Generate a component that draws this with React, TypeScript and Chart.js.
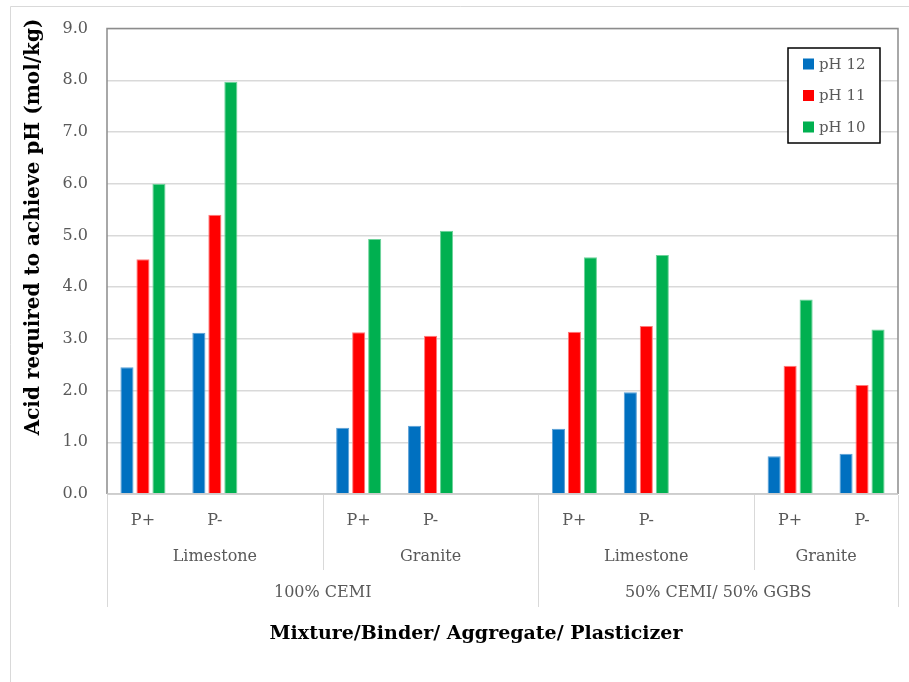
import React, { useEffect, useRef } from "react";
import { Chart, registerables } from "chart.js";

Chart.register(...registerables);

// Plasticizer level for each category slot ('' = spacer slot between groups)
const categories = ["P+", "P-", "", "P+", "P-", "", "P+", "P-", "", "P+", "P-"];

// Aggregate groups (second row) and binder groups (third row), with slot spans
const aggregateLabels = ["Limestone", "Granite", "Limestone", "Granite"];
const aggregateSpans = [3, 3, 3, 2];
const binderLabels = ["100% CEMI", "50% CEMI/ 50% GGBS"];
const binderSpans = [6, 5];

// Acid required (mol/kg) to reach each pH
const ph12 = [2.45, 3.12, null, 1.28, 1.32, null, 1.26, 1.97, null, 0.73, 0.78];
const ph11 = [4.54, 5.4, null, 3.13, 3.06, null, 3.14, 3.25, null, 2.48, 2.11];
const ph10 = [6.0, 7.97, null, 4.93, 5.09, null, 4.58, 4.62, null, 3.76, 3.18];

const seriesLabels = ["pH 12", "pH 11", "pH 10"];
const yTicks = [0, 1, 2, 3, 4, 5, 6, 7, 8, 9];

const FONT = "'DejaVu Serif', serif";
const TEXT_GREY = "#595959";

const decorations = {
  id: "decorations",
  beforeDraw(chart: any) {
    const ctx = chart.ctx;
    ctx.save();
    // outer frame (top and left edges)
    ctx.strokeStyle = "#d9d9d9";
    ctx.lineWidth = 1;
    ctx.beginPath();
    ctx.moveTo(10.5, 700);
    ctx.lineTo(10.5, 6.5);
    ctx.lineTo(920, 6.5);
    ctx.stroke();
    ctx.restore();
  },
  afterDraw(chart: any) {
    const ctx = chart.ctx;
    const area = chart.chartArea;
    const x = chart.scales.x;
    const slot = x.getPixelForValue(1) - x.getPixelForValue(0);
    const edge = (i: number) => x.getPixelForValue(i) - slot / 2;
    ctx.save();

    // plot frame
    ctx.lineWidth = 1.5;
    ctx.strokeStyle = "#8c8c8c";
    ctx.beginPath();
    ctx.moveTo(area.left, area.bottom);
    ctx.lineTo(area.left, area.top);
    ctx.lineTo(area.right, area.top);
    ctx.lineTo(area.right, area.bottom);
    ctx.stroke();
    ctx.strokeStyle = "#c8c8c8";
    ctx.beginPath();
    ctx.moveTo(area.left, area.bottom);
    ctx.lineTo(area.right, area.bottom);
    ctx.stroke();

    // multi-level category separators
    ctx.lineWidth = 1;
    ctx.strokeStyle = "#d9d9d9";
    let pos = 0;
    aggregateSpans.forEach((span) => {
      pos += span;
      const px = Math.round(edge(pos)) + 0.5;
      ctx.beginPath();
      ctx.moveTo(px, area.bottom + 1);
      ctx.lineTo(px, area.bottom + 76);
      ctx.stroke();
    });
    pos = 0;
    const binderEdges = [0];
    binderSpans.forEach((span) => {
      pos += span;
      binderEdges.push(pos);
    });
    binderEdges.forEach((b) => {
      const px = Math.round(edge(b)) + 0.5;
      ctx.beginPath();
      ctx.moveTo(px, area.bottom + 1);
      ctx.lineTo(px, area.bottom + 113);
      ctx.stroke();
    });

    // group labels
    ctx.fillStyle = TEXT_GREY;
    ctx.font = `16px ${FONT}`;
    ctx.textAlign = "center";
    ctx.textBaseline = "middle";
    pos = 0;
    aggregateSpans.forEach((span, i) => {
      const cx = (edge(pos) + edge(pos + span)) / 2;
      ctx.fillText(aggregateLabels[i], cx, area.bottom + 63);
      pos += span;
    });
    pos = 0;
    binderSpans.forEach((span, i) => {
      const cx = (edge(pos) + edge(pos + span)) / 2;
      ctx.fillText(binderLabels[i], cx, area.bottom + 99);
      pos += span;
    });

    // axis titles
    ctx.fillStyle = "#000000";
    ctx.font = `bold 19px ${FONT}`;
    ctx.fillText("Mixture/Binder/ Aggregate/ Plasticizer", 476, 634);
    ctx.font = `bold 20px ${FONT}`;
    ctx.save();
    ctx.translate(34, 227);
    ctx.rotate(-Math.PI / 2);
    ctx.fillText("Acid required to achieve pH (mol/kg)", 0, 0);
    ctx.restore();

    // legend
    const lx = 788, ly = 48, lw = 92, lh = 95;
    ctx.fillStyle = "#ffffff";
    ctx.fillRect(lx, ly, lw, lh);
    ctx.strokeStyle = "#000000";
    ctx.lineWidth = 1.5;
    ctx.strokeRect(lx, ly, lw, lh);
    ctx.font = `15px ${FONT}`;
    ctx.textAlign = "left";
    chart.data.datasets.forEach((ds: any, i: number) => {
      const cy = 64 + i * 31.5;
      ctx.fillStyle = ds.backgroundColor;
      ctx.fillRect(803, cy - 5.5, 11, 11);
      ctx.fillStyle = TEXT_GREY;
      ctx.fillText(ds.label, 819, cy + 1);
    });
    ctx.restore();
  },
};

export default function App() {
  const ref = useRef<HTMLCanvasElement | null>(null);

  useEffect(() => {
    if (!ref.current) return;
    const chart = new Chart(ref.current, {
      type: "bar",
      data: {
        labels: categories,
        datasets: [
          { label: seriesLabels[0], data: ph12, backgroundColor: "#0070C0", borderColor: "#5a9fd6" },
          { label: seriesLabels[1], data: ph11, backgroundColor: "#FF0000", borderColor: "#ff7a7a" },
          { label: seriesLabels[2], data: ph10, backgroundColor: "#00B050", borderColor: "#6cd39a" },
        ],
      },
      options: {
        responsive: false,
        animation: false,
        layout: { padding: { top: 27, right: 11, left: 0, bottom: 0 } },
        datasets: {
          bar: { categoryPercentage: 0.667, barPercentage: 0.82, borderWidth: 1, borderSkipped: "bottom" },
        },
        plugins: {
          legend: { display: false },
          tooltip: { enabled: false },
        },
        scales: {
          x: {
            grid: { display: false, drawTicks: false },
            border: { display: false },
            ticks: {
              color: TEXT_GREY,
              font: { family: FONT, size: 16 },
              padding: 17,
              maxRotation: 0,
              autoSkip: false,
            },
            afterFit: (scale: any) => {
              scale.height = 188;
            },
          },
          y: {
            min: 0,
            max: 9,
            afterBuildTicks: (scale: any) => {
              scale.ticks = yTicks.map((v) => ({ value: v }));
            },
            grid: { color: "#d9d9d9", lineWidth: 1.5, drawTicks: false },
            border: { display: false },
            ticks: {
              color: TEXT_GREY,
              font: { family: FONT, size: 16 },
              padding: 19,
              callback: (v: any) => Number(v).toFixed(1),
            },
            afterFit: (scale: any) => {
              scale.width = 107;
            },
          },
        },
      },
      plugins: [decorations],
    });
    return () => chart.destroy();
  }, []);

  return (
    <div style={{ position: "absolute", left: 0, top: 0, width: 909, height: 682, background: "#ffffff" }}>
      <canvas ref={ref} width={909} height={682} />
    </div>
  );
}
